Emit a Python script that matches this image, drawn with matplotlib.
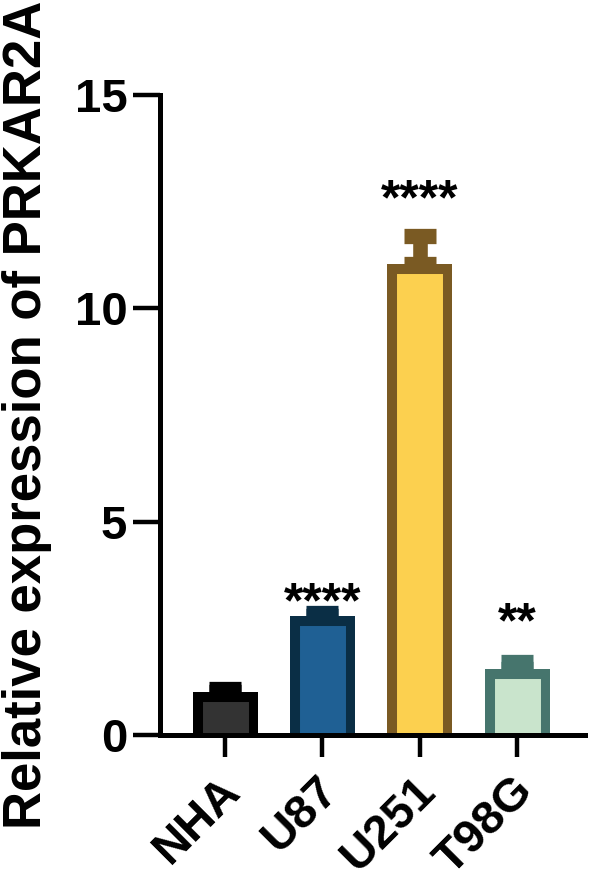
import matplotlib.pyplot as plt
import matplotlib.transforms as mtransforms
import numpy as np
from matplotlib.patches import Rectangle

plt.rcParams['font.family'] = ['Liberation Sans', 'DejaVu Sans']
plt.rcParams['font.weight'] = 'bold'

cells = ['NHA', 'U87', 'U251', 'T98G']
means = [1.0, 2.79, 11.04, 1.55]
sds = [0.07, 0.06, 0.65, 0.15]
stars = ['', '****', '****', '**']
fills = ['#333333', '#1f6094', '#fcd04f', '#c9e4cc']
edges = ['#000000', '#0a2e45', '#7a5a23', '#46756d']
# vertical offset (points) of asterisks from top of error bar
star_off = [0, -18.3, 0.6, 3]

fig = plt.figure(figsize=(5.9, 8.85), dpi=100)
ax = fig.add_axes([0.271, 0.1695, 0.721, 0.7232])

x = np.arange(len(cells))
w = 0.668
base = -0.3
for i in range(len(cells)):
    ax.errorbar(x[i], means[i], yerr=[[0], [sds[i]]], fmt='none',
                ecolor=edges[i], elinewidth=10.5, capsize=11.5, capthick=11,
                zorder=1)
    b = ax.bar(x[i], means[i] - base, bottom=base, width=w,
               color=fills[i], edgecolor=edges[i], linewidth=13.7, zorder=2)
    # keep border inside the bar and hide the bottom edge under the axis
    clip = Rectangle((x[i] - w / 2, 0), w, means[i], transform=ax.transData)
    b.patches[0].set_clip_path(clip)
    if stars[i]:
        ax.annotate(stars[i], (x[i], means[i] + sds[i]),
                    xytext=(0, 8 + star_off[i]), textcoords='offset points',
                    ha='center', va='bottom', fontsize=36,
                    fontweight='bold')

ax.set_xlim(-0.67, 3.70)
ax.set_ylim(0, 15)
ax.set_yticks([0, 5, 10, 15])
ax.set_xticks(x)
ax.set_xticklabels(cells, rotation=45, ha='right', va='center',
                   rotation_mode='anchor', fontsize=34, fontweight='bold')
for lab in ax.get_yticklabels():
    lab.set_fontsize(34)
    lab.set_fontweight('bold')

ax.spines['top'].set_visible(False)
ax.spines['right'].set_visible(False)
ax.spines['left'].set_linewidth(3.6)
ax.spines['bottom'].set_linewidth(3.6)
ax.tick_params(axis='y', length=19.5, width=3.2, pad=4)
ax.tick_params(axis='x', length=16, width=3.2, pad=14)

shift = mtransforms.ScaledTranslation(6.5 / 72, -5.5 / 72, fig.dpi_scale_trans)
for t in ax.xaxis.get_major_ticks():
    t.label1.set_transform(t.label1.get_transform() + shift)

fig.text(0.003, 0.531, 'Relative expression of PRKAR2A', rotation=90,
         ha='left', va='center', fontsize=38, fontweight='bold')

fig.savefig('out.png', dpi=100)
